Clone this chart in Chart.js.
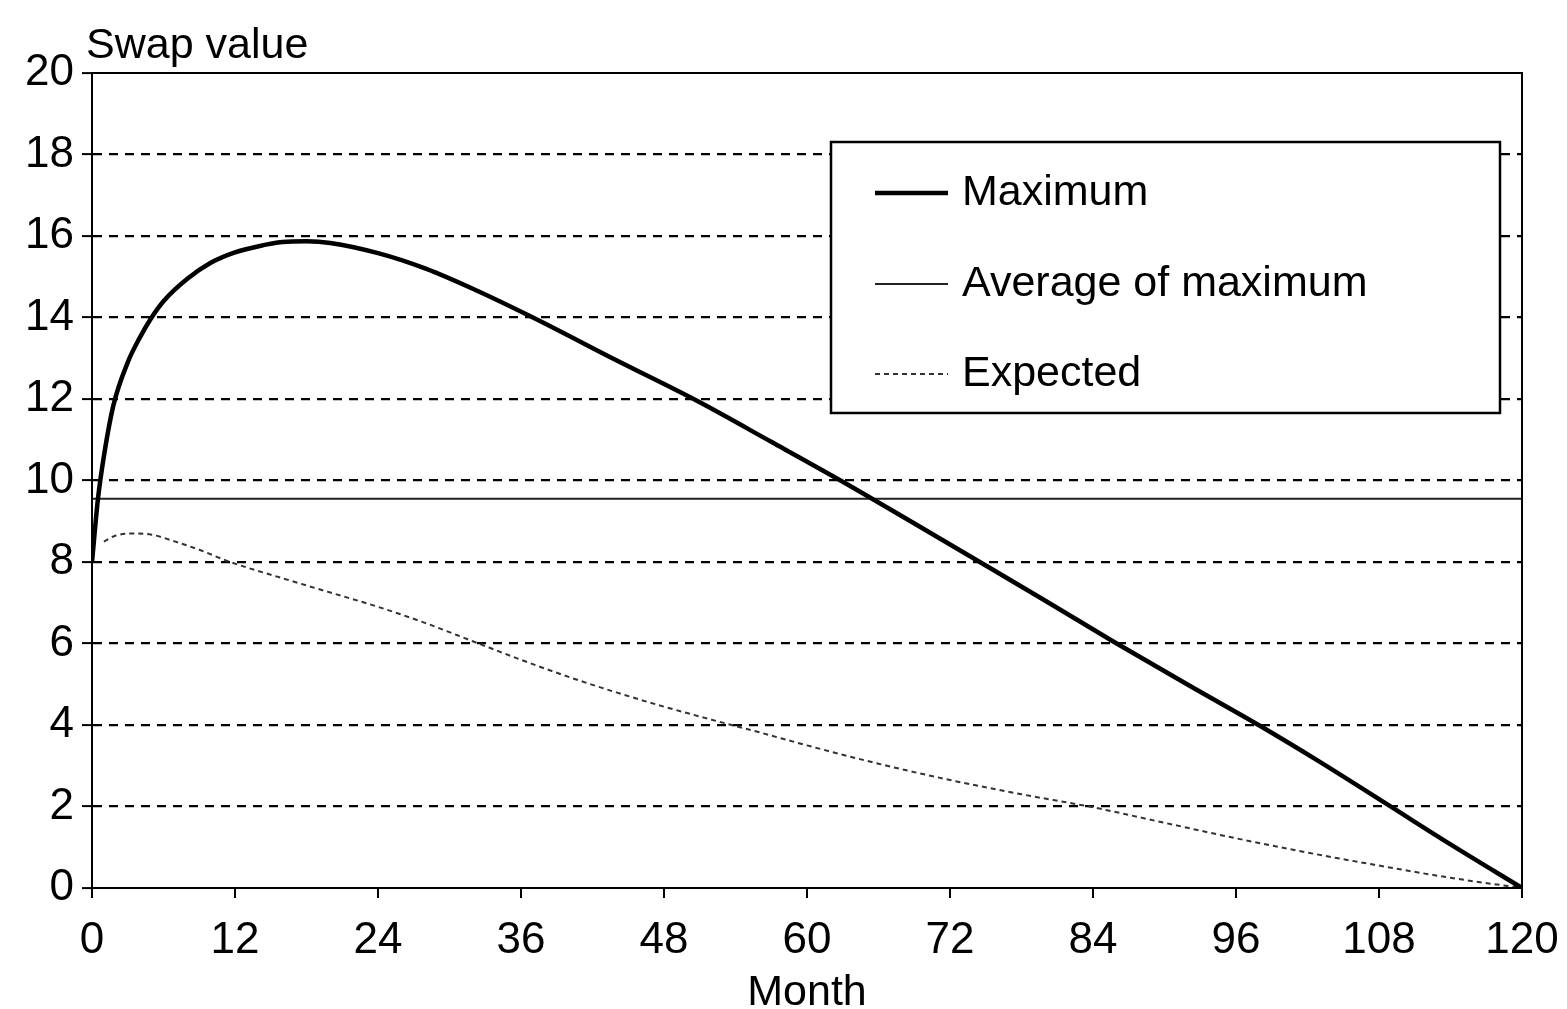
<!DOCTYPE html>
<html>
<head>
<meta charset="utf-8">
<script src="https://cdn.jsdelivr.net/npm/chart.js@4/dist/chart.umd.min.js"></script>
<style>
  html, body { margin: 0; padding: 0; background: #fff; }
  #wrap { width: 1567px; height: 1009px; }
</style>
</head>
<body>
<div id="wrap"><canvas id="chart" width="1567" height="1009"></canvas></div>
<script>
// months and values
const maxMonths = [0, 0.5, 1, 1.8, 3, 4, 5, 6, 8, 10, 12, 14, 16, 18, 20, 24, 28, 32, 37, 44, 50.8, 57, 63, 68.8, 74.5, 80, 85.7, 92, 98, 103, 108.7, 114, 120]
const maxValues = [8.0, 9.55, 10.6, 11.85, 12.9, 13.5, 14.0, 14.4, 14.95, 15.35, 15.6, 15.75, 15.85, 15.87, 15.83, 15.58, 15.2, 14.7, 14.0, 12.95, 11.95, 10.95, 9.97, 8.98, 8.0, 7.05, 6.05, 4.98, 3.98, 3.1, 2.05, 1.07, 0]

const avgMonths = [0, 120]
const avgValues = [9.55, 9.55]

const expMonths = [1, 2, 3.5, 5, 7, 9, 11.6, 16, 20, 24, 28, 32, 36, 40, 44, 48, 52, 56, 60, 66, 72, 78, 84, 90, 96, 102, 108, 114, 120]
const expValues = [8.5, 8.65, 8.7, 8.67, 8.5, 8.3, 8.0, 7.6, 7.25, 6.9, 6.5, 6.05, 5.6, 5.18, 4.8, 4.45, 4.13, 3.82, 3.5, 3.05, 2.65, 2.3, 1.98, 1.6, 1.22, 0.87, 0.55, 0.25, 0]

const seriesNames = ["Maximum", "Average of maximum", "Expected"]
const xTicks = [0, 12, 24, 36, 48, 60, 72, 84, 96, 108, 120]
const yTicks = [0, 2, 4, 6, 8, 10, 12, 14, 16, 18, 20]

const FONT = "'Liberation Sans', Arial, sans-serif"

const toPoints = (xs, ys) => xs.map((x, i) => ({ x: x, y: ys[i] }))

// box round the plot, the y caption and the legend inside the plot
const extras = {
  id: "extras",
  afterDraw(chart) {
    const ctx = chart.ctx
    const a = chart.chartArea
    ctx.save()
    ctx.strokeStyle = "#000"
    ctx.lineWidth = 2
    ctx.setLineDash([])
    ctx.strokeRect(a.left, a.top, a.right - a.left, a.bottom - a.top)

    ctx.fillStyle = "#000"
    ctx.font = "43px " + FONT
    ctx.textBaseline = "middle"
    ctx.textAlign = "left"
    ctx.fillText("Swap value", 86, 46)

    // legend
    const lx = 831, ly = 142, lw = 669, lh = 271
    ctx.fillStyle = "#fff"
    ctx.fillRect(lx, ly, lw, lh)
    ctx.lineWidth = 2.5
    ctx.strokeStyle = "#000"
    ctx.strokeRect(lx, ly, lw, lh)
    const rows = [193, 284, 374]
    chart.data.datasets.forEach((ds, i) => {
      ctx.beginPath()
      ctx.strokeStyle = ds.borderColor
      ctx.lineWidth = ds.borderWidth
      ctx.setLineDash(ds.borderDash || [])
      ctx.moveTo(875, rows[i])
      ctx.lineTo(948, rows[i])
      ctx.stroke()
      ctx.setLineDash([])
      ctx.fillStyle = "#000"
      ctx.font = "43px " + FONT
      ctx.fillText(ds.label, 962, rows[i])
    })
    ctx.restore()
  }
}

const chartData = {
  datasets: [
    {
      label: seriesNames[0],
      data: toPoints(maxMonths, maxValues),
      borderColor: "#000",
      borderWidth: 4.5,
      pointRadius: 0,
      cubicInterpolationMode: "monotone"
    },
    {
      label: seriesNames[1],
      data: toPoints(avgMonths, avgValues),
      borderColor: "#222",
      borderWidth: 2,
      pointRadius: 0
    },
    {
      label: seriesNames[2],
      data: toPoints(expMonths, expValues),
      borderColor: "#333",
      borderWidth: 2,
      borderDash: [5, 4],
      pointRadius: 0,
      cubicInterpolationMode: "monotone"
    }
  ]
}

const chartConfig = {
  type: "line",
  data: chartData,
  plugins: [extras],
  options: {
    responsive: false,
    animation: false,
    layout: { padding: { top: 73, right: 45, left: 0, bottom: 0 } },
    plugins: {
      legend: { display: false },
      tooltip: { enabled: false }
    },
    scales: {
      x: {
        type: "linear",
        min: 0,
        max: 120,
        afterBuildTicks: (scale) => { scale.ticks = xTicks.map(v => ({ value: v })) },
        afterFit: (scale) => {
          scale.height = 121
          scale.paddingLeft = 0
          scale.paddingRight = 0
        },
        grid: { drawOnChartArea: false, drawTicks: true, tickLength: 10, color: "#000", lineWidth: 2 },
        border: { color: "#000", width: 2 },
        ticks: { color: "#000", font: { family: FONT, size: 44 }, padding: 16, maxRotation: 0, autoSkip: false },
        title: { display: true, text: "Month", color: "#000", font: { family: FONT, size: 43 }, padding: { top: 0, bottom: -10 } }
      },
      y: {
        min: 0,
        max: 20,
        afterBuildTicks: (scale) => { scale.ticks = yTicks.map(v => ({ value: v })) },
        afterFit: (scale) => {
          scale.width = 92
          scale.paddingTop = 0
          scale.paddingBottom = 0
        },
        grid: {
          color: (c) => (c.tick && (c.tick.value === 0 || c.tick.value === 20)) ? "rgba(0,0,0,0)" : "#000",
          lineWidth: 2.2,
          tickLength: 10,
          tickColor: "#000",
          tickBorderDash: [],
          tickWidth: 2
        },
        border: { color: "#000", width: 2, dash: [9, 7] },
        ticks: { color: "#000", font: { family: FONT, size: 44 }, padding: 8 }
      }
    }
  }
}

let myChart = new Chart(document.getElementById("chart"), chartConfig)
</script>
</body>
</html>
